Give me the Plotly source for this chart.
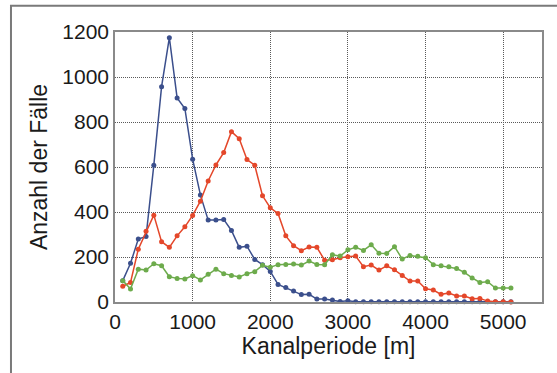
import plotly.graph_objects as go

x_vals = list(range(100, 5200, 100))

blue = [95, 172, 280, 291, 608, 957, 1175, 907, 860, 635,
        476, 364, 364, 367, 318, 243, 248, 189, 166, 136,
        78, 64, 49, 33, 34, 13, 13, 9, 2, 6,
        1, 1, 1, 1, 1, 1, 1, 1, 1, 1,
        1, 1, 1, 1, 1, 1, 1, 1, 1, 1, 1]

red = [70, 87, 235, 314, 386, 268, 243, 294, 334, 385,
       448, 538, 609, 664, 757, 726, 633, 608, 472, 419,
       393, 294, 250, 228, 244, 243, 186, 188, 197, 201,
       204, 157, 164, 142, 161, 143, 118, 93, 93, 59,
       53, 34, 40, 27, 27, 15, 16, 4, 1, 1, 0]

green = [95, 58, 146, 142, 170, 161, 112, 105, 102, 117,
         98, 123, 146, 126, 118, 111, 126, 135, 163, 155,
         166, 167, 169, 164, 182, 167, 166, 210, 204, 232,
         243, 229, 254, 217, 216, 246, 191, 207, 203, 197,
         166, 161, 157, 149, 132, 107, 87, 90, 62, 62, 62]

x_ticks = [0, 1000, 2000, 3000, 4000, 5000]
y_ticks = [0, 200, 400, 600, 800, 1000, 1200]

series = [(blue, "#3b4f8c"), (red, "#e4472a"), (green, "#6dab4c")]

fig = go.Figure()
for vals, col in series:
    fig.add_trace(go.Scatter(
        x=x_vals, y=vals, mode="lines+markers",
        line=dict(color=col, width=1.5),
        marker=dict(color=col, size=5),
        showlegend=False, cliponaxis=False))

font = "Liberation Sans, Arial, sans-serif"
fig.update_layout(
    width=557, height=373,
    margin=dict(l=115, r=15, t=32, b=71),
    paper_bgcolor="white", plot_bgcolor="white",
    font=dict(family=font, color="#1a1a1a", size=21),
    xaxis=dict(range=[0, 5500], tickvals=x_ticks, showgrid=True,
               gridcolor="#5a5a5a", griddash="1px,1px", gridwidth=1,
               showline=True, linecolor="#8a8a8a", linewidth=1.5, mirror=True,
               ticks="", zeroline=False, tickfont=dict(size=21),
               title=dict(text="Kanalperiode [m]", font=dict(size=23), standoff=6)),
    yaxis=dict(range=[0, 1200], tickvals=y_ticks, showgrid=True,
               gridcolor="#5a5a5a", griddash="1px,1px", gridwidth=1,
               showline=True, linecolor="#8a8a8a", linewidth=1.5, mirror=True,
               ticks="", zeroline=False, tickfont=dict(size=21),
               title=dict(text="Anzahl der Fälle", font=dict(size=23), standoff=8)),
    shapes=[dict(type="rect", xref="paper", yref="paper",
                 x0=-0.2436, x1=1.05, y0=-0.3, y1=1.097,
                 line=dict(color="#7a7a7a", width=2), layer="below")],
)

fig.write_html("out.html")
